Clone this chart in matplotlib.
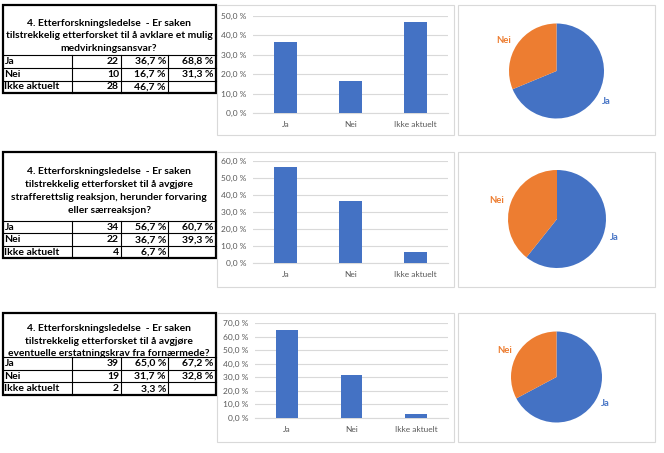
import matplotlib
matplotlib.use("Agg")
import matplotlib.pyplot as plt
from matplotlib.patches import Rectangle
from matplotlib.ticker import FuncFormatter, MultipleLocator

# ---------------- data ----------------
categories = ["Ja", "Nei", "Ikke aktuelt"]
pie_labels = ["Ja", "Nei"]

title_q1 = ["4. Etterforskningsledelse  - Er saken",
            "tilstrekkelig etterforsket til å avklare et mulig",
            "medvirkningsansvar?"]
counts_q1 = [22, 10, 28]
pct_q1 = [36.7, 16.7, 46.7]
pct_excl_q1 = [68.8, 31.3]

title_q2 = ["4. Etterforskningsledelse  - Er saken",
            "tilstrekkelig etterforsket til å avgjøre",
            "strafferettslig reaksjon, herunder forvaring",
            "eller særreaksjon?"]
counts_q2 = [34, 22, 4]
pct_q2 = [56.7, 36.7, 6.7]
pct_excl_q2 = [60.7, 39.3]

title_q3 = ["4. Etterforskningsledelse  - Er saken",
            "tilstrekkelig etterforsket til å avgjøre",
            "eventuelle erstatningskrav fra fornærmede?"]
counts_q3 = [39, 19, 2]
pct_q3 = [65.0, 31.7, 3.3]
pct_excl_q3 = [67.2, 32.8]

y_max = [50, 60, 70]

# ---------------- style ----------------
BLUE = "#4472C4"
ORANGE = "#ED7D31"
GRID = "#D9D9D9"
TXT = "#595959"
FONT = "Lato"
plt.rcParams["font.family"] = [FONT, "DejaVu Sans"]

W, H = 664, 453
fig = plt.figure(figsize=(W / 100, H / 100), dpi=100)
fig.patch.set_facecolor("white")

base = fig.add_axes([0, 0, 1, 1])
base.set_xlim(0, W)
base.set_ylim(H, 0)
base.axis("off")

TFS = 7.4   # table title font size
DFS = 7.5   # table data font size
TDY = 1.5   # title nudge (px, downward)
DDY = 0.0   # data nudge


def px_axes(x0, y0, x1, y1):
    return fig.add_axes([x0 / W, 1 - y1 / H, (x1 - x0) / W, (y1 - y0) / H])


def fmt_pct(v):
    return f"{v:.1f}".replace(".", ",") + " %"


def draw_table(top, data_top, row_h, title_lines, title_y, counts, pct, pct_excl):
    left, right = 2.5, 215.5
    cols = [72, 121, 168]
    bottom = data_top + 3 * row_h
    for i in range(0, 3):
        y = data_top + i * row_h
        base.plot([left, right], [y, y], color="black", lw=0.8)
    for c in cols:
        base.plot([c, c], [data_top, bottom], color="black", lw=0.8)
    base.add_patch(Rectangle((left, top), right - left, bottom - top,
                             fill=False, edgecolor="black", lw=1.6))
    for i, line in enumerate(title_lines):
        base.text((left + right) / 2, title_y[i] + TDY, line, ha="center",
                  va="center", fontsize=TFS, fontweight="bold", color="black")
    for i, cat in enumerate(categories):
        yc = data_top + (i + 0.5) * row_h + DDY
        base.text(4.5, yc, cat, ha="left", va="center", fontsize=DFS,
                  fontweight="bold")
        base.text(cols[1] - 2, yc, str(counts[i]), ha="right", va="center",
                  fontsize=DFS, fontweight="bold")
        base.text(cols[2] - 2, yc, fmt_pct(pct[i]), ha="right", va="center",
                  fontsize=DFS, fontweight="bold")
        if i < len(pct_excl):
            base.text(right - 2.5, yc, fmt_pct(pct_excl[i]), ha="right",
                      va="center", fontsize=DFS, fontweight="bold")


def draw_bar(box, plot, values, ymax):
    bx0, by0, bx1, by1 = box
    base.add_patch(Rectangle((bx0, by0), bx1 - bx0, by1 - by0, facecolor="white",
                             edgecolor=GRID, lw=0.8))
    ax = px_axes(*plot)
    ax.set_facecolor("none")
    x = list(range(len(categories)))
    ax.bar(x, values, width=0.34, color=BLUE, zorder=3)
    ax.set_xlim(-0.5, len(categories) - 0.5)
    ax.set_ylim(0, ymax)
    ax.yaxis.set_major_locator(MultipleLocator(10))
    ax.yaxis.set_major_formatter(FuncFormatter(lambda v, p: fmt_pct(v)))
    ax.grid(axis="y", color=GRID, lw=0.8, zorder=0)
    for s in ["top", "right", "left"]:
        ax.spines[s].set_visible(False)
    ax.spines["bottom"].set_color(GRID)
    ax.spines["bottom"].set_linewidth(0.8)
    ax.set_xticks(x)
    ax.set_xticklabels(categories)
    ax.tick_params(axis="both", length=0, labelsize=6, labelcolor=TXT)
    ax.tick_params(axis="y", pad=4.5)
    ax.tick_params(axis="x", pad=6)


def draw_pie(box, center, r, values):
    bx0, by0, bx1, by1 = box
    base.add_patch(Rectangle((bx0, by0), bx1 - bx0, by1 - by0, facecolor="white",
                             edgecolor=GRID, lw=0.8))
    cx, cy = center
    ax = px_axes(cx - r, cy - r, cx + r, cy + r)
    wedges, texts = ax.pie(values, labels=pie_labels, colors=[BLUE, ORANGE],
                           startangle=90, counterclock=False, labeldistance=1.15,
                           wedgeprops=dict(linewidth=0),
                           textprops=dict(fontsize=6.8, fontweight="bold"))
    for t, c in zip(texts, [BLUE, ORANGE]):
        t.set_color(c)
    ax.set_xlim(-1, 1)
    ax.set_ylim(-1, 1)
    ax.set_aspect("equal")


# row 1
draw_table(5, 55, 12.75, title_q1, [22, 34.5, 47], counts_q1, pct_q1, pct_excl_q1)
draw_bar((217, 5, 454, 135), (253, 16, 448, 113), pct_q1, y_max[0])
draw_pie((458, 5, 655, 135), (556.5, 71), 47.5, pct_excl_q1)

# row 2
draw_table(152, 221, 12.45, title_q2, [170, 183, 196, 209], counts_q2, pct_q2, pct_excl_q2)
draw_bar((217, 152, 454, 287), (253, 161, 448, 263), pct_q2, y_max[1])
draw_pie((458, 152, 655, 287), (557, 219), 49, pct_excl_q2)

# row 3
draw_table(313, 357.3, 12.55, title_q3, [327, 339.5, 352], counts_q3, pct_q3, pct_excl_q3)
draw_bar((217, 313, 454, 442), (255, 323, 448, 418), pct_q3, y_max[2])
draw_pie((458, 313, 655, 442), (556.5, 377), 45.5, pct_excl_q3)

fig.savefig("out.png", dpi=100, facecolor="white")
